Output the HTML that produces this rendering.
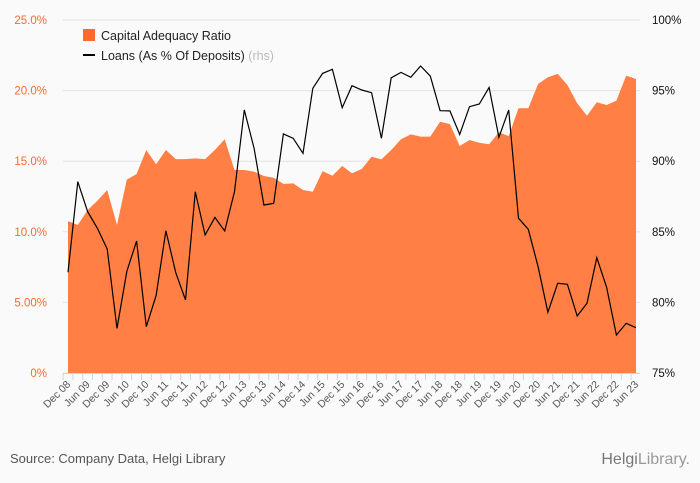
<!DOCTYPE html>
<html><head><meta charset="utf-8"><style>
body{margin:0;background:#fafafa;font-family:"Liberation Sans",sans-serif;}
svg{display:block}
</style></head><body>
<svg id="c" width="700" height="483" xmlns="http://www.w3.org/2000/svg">
<rect width="700" height="483" fill="#fafafa"/>
<g id="grid"></g>
<g id="area"></g>
<g id="line"></g>
<g id="axes"></g>
<g>
<rect x="83" y="29" width="12" height="12" fill="#ff6a2a"/>
<text x="101" y="40" font-size="12.5" fill="#222">Capital Adequacy Ratio</text>
<line x1="83" y1="55" x2="95" y2="55" stroke="#000" stroke-width="2"/>
<text x="101" y="60" font-size="12.5" fill="#222">Loans (As % Of Deposits) <tspan fill="#bbb">(rhs)</tspan></text>
</g>
<text x="10" y="463" font-size="13" fill="#555">Source: Company Data, Helgi Library</text>
<text x="690" y="464" font-size="16" fill="#999" text-anchor="end"><tspan fill="#777">Helgi</tspan>Library.</text>
</svg>
<script>
const categories=["Dec 08","Mar 09","Jun 09","Sep 09","Dec 09","Mar 10","Jun 10","Sep 10","Dec 10","Mar 11","Jun 11","Sep 11","Dec 11","Mar 12","Jun 12","Sep 12","Dec 12","Mar 13","Jun 13","Sep 13","Dec 13","Mar 14","Jun 14","Sep 14","Dec 14","Mar 15","Jun 15","Sep 15","Dec 15","Mar 16","Jun 16","Sep 16","Dec 16","Mar 17","Jun 17","Sep 17","Dec 17","Mar 18","Jun 18","Sep 18","Dec 18","Mar 19","Jun 19","Sep 19","Dec 19","Mar 20","Jun 20","Sep 20","Dec 20","Mar 21","Jun 21","Sep 21","Dec 21","Mar 22","Jun 22","Sep 22","Dec 22","Mar 23","Jun 23"];
const carValues=[10.76,10.48,11.54,12.2,12.96,10.48,13.7,14.09,15.79,14.78,15.79,15.15,15.15,15.2,15.15,15.79,16.55,14.38,14.38,14.26,13.95,13.83,13.39,13.43,12.96,12.84,14.3,13.97,14.66,14.14,14.45,15.32,15.13,15.79,16.55,16.9,16.74,16.74,17.8,17.63,16.08,16.5,16.31,16.2,17.05,16.78,18.75,18.75,20.47,20.94,21.18,20.4,19.1,18.22,19.17,18.98,19.29,21.06,20.82];
const loanValues=[82.13,88.55,86.43,85.25,83.78,78.16,82.19,84.35,78.28,80.48,85.08,82.12,80.18,87.84,84.77,86.02,85.06,87.84,93.63,90.91,86.9,87.02,91.93,91.62,90.56,95.16,96.22,96.51,93.79,95.35,95.04,94.85,91.62,95.91,96.29,95.94,96.74,96.03,93.58,93.56,91.9,93.86,94.05,95.23,91.69,93.63,85.96,85.18,82.53,79.3,81.35,81.28,79.04,79.94,83.17,81.07,77.69,78.52,78.21];
const leftTicks=[0,5,10,15,20,25];
const leftTickLabels=["0%","5.00%","10.0%","15.0%","20.0%","25.0%"];
const rightTicks=[75,80,85,90,95,100];
const rightTickLabels=["75%","80%","85%","90%","95%","100%"];

const NS="http://www.w3.org/2000/svg";
const X0=68,X1=636,YT=20,YB=373;
const x=i=>X0+(X1-X0)*i/(categories.length-1);
const yL=v=>YB-(v-0)/25*(YB-YT);
const yR=v=>YB-(v-75)/25*(YB-YT);
function mk(tag,attrs,parent){const e=document.createElementNS(NS,tag);for(const k in attrs)e.setAttribute(k,attrs[k]);parent.appendChild(e);return e;}
const grid=document.getElementById('grid'),axes=document.getElementById('axes');
leftTicks.forEach((t,i)=>{
  const g=mk('line',{x1:63,x2:640,y1:yL(t),y2:yL(t),stroke:'#e2e2e2','stroke-width':1},grid);
  
  
  const tl=mk('text',{x:47,y:yL(t)+4,'font-size':11.5,fill:'#ff6a2a','text-anchor':'end'},axes);
  tl.textContent=leftTickLabels[i];
  
  
});
rightTicks.forEach((t,i)=>{
  const tl=mk('text',{x:652,y:yR(t)+4,'font-size':11.5,fill:'#111'},axes);
  tl.textContent=rightTickLabels[i];
  
  
});
let d='M'+x(0)+','+YB;
carValues.forEach((v,i)=>{d+=' L'+x(i).toFixed(1)+','+yL(v).toFixed(1);});
d+=' L'+x(carValues.length-1)+','+YB+' Z';
const a=mk('path',{d:d,fill:'#ff7f45'},document.getElementById('area'));


const pts=loanValues.map((v,i)=>x(i).toFixed(1)+','+yR(v).toFixed(1)).join(' ');
const l=mk('polyline',{points:pts,fill:'none',stroke:'#000','stroke-width':1.2},document.getElementById('line'));


const ax=mk('line',{x1:63,x2:640,y1:YB+0.5,y2:YB+0.5,stroke:'#ccd6eb'},axes);


categories.forEach((c,i)=>{
  const tk=mk('line',{x1:x(i)-4.9,x2:x(i)-4.9,y1:YB,y2:YB+7,stroke:'#ccd6eb'},axes);
  
  
  if(i%2===0){
    const t=mk('text',{x:x(i)+3,y:YB+12,'font-size':10.5,fill:'#555','text-anchor':'end',transform:'rotate(-45 '+(x(i)+3)+' '+(YB+12)+')'},axes);
    t.textContent=c;
    
    
  }
});
</script>
</body></html>
